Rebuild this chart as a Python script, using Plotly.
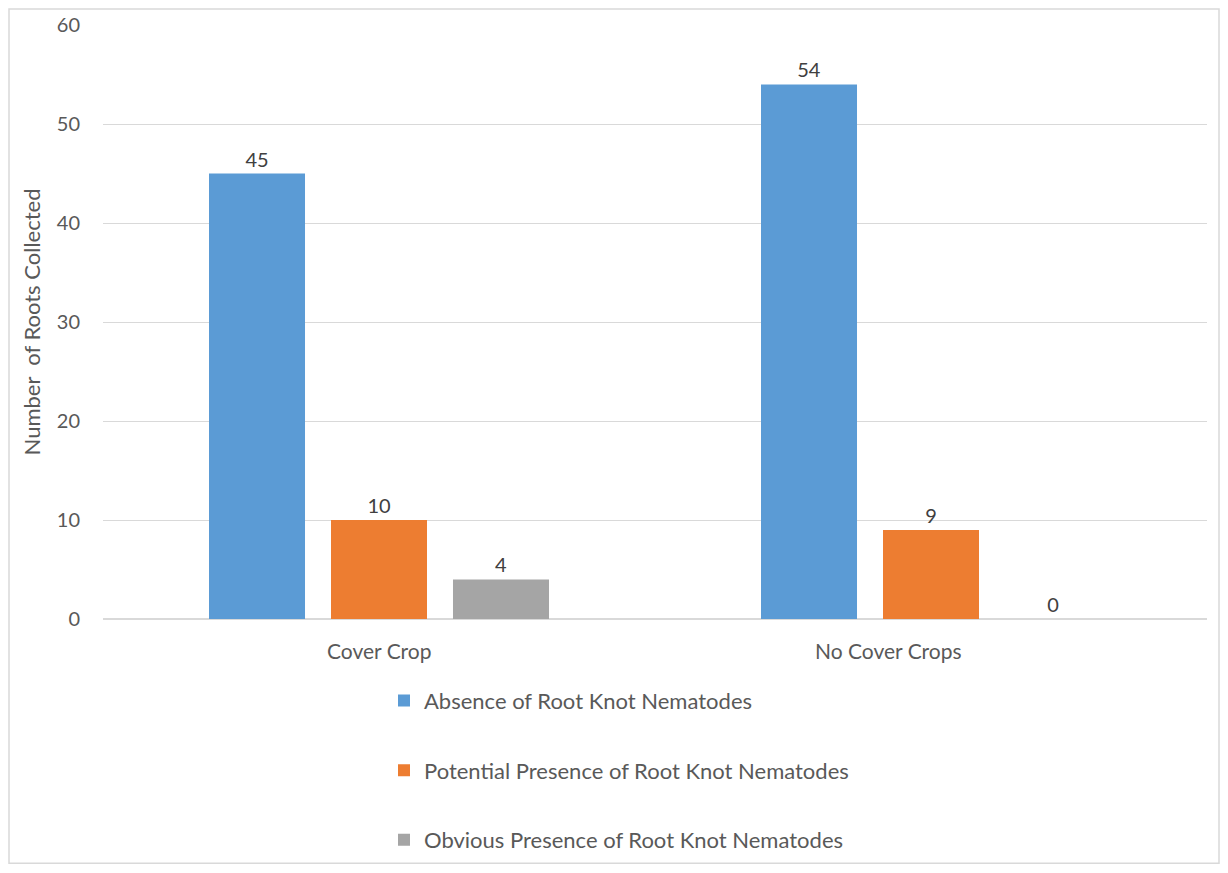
import plotly.graph_objects as go

categories = ["Cover Crop", "No Cover Crops"]
series_names = [
    "Absence of Root Knot Nematodes",
    "Potential Presence of Root Knot Nematodes",
    "Obvious Presence of Root Knot Nematodes",
]
absence = [45, 54]
potential = [10, 9]
obvious = [4, 0]
colors = ["#5B9BD5", "#ED7D31", "#A5A5A5"]
y_ticks = [0, 10, 20, 30, 40, 50, 60]

FONT = "Lato, Open Sans, sans-serif"
TXT = "#595959"

fig = go.Figure()
for i, (name, vals) in enumerate(zip(series_names, [absence, potential, obvious])):
    fig.add_trace(go.Bar(
        x=categories, y=vals, name=name,
        marker=dict(color=colors[i], line=dict(width=0)),
        text=[str(v) for v in vals], textposition="outside",
        textfont=dict(size=20, color="#404040", family=FONT),
        cliponaxis=False, legendgroup=f"g{i}",
    ))

# category labels (second one sits slightly left of its group centre in the original)
label_shift = [0, -43]
for cat, sh in zip(categories, label_shift):
    fig.add_annotation(x=cat, y=0, xref="x", yref="y", text=cat, showarrow=False,
                       yshift=-31, xshift=sh, font=dict(size=21, color=TXT, family=FONT))

fig.add_shape(type="rect", xref="paper", yref="paper",
              x0=(9 - 103) / 1104, x1=(1219 - 103) / 1104,
              y0=(621 - 866) / 596, y1=(621 - 9) / 596,
              line=dict(color="#D9D9D9", width=1.5), fillcolor="rgba(0,0,0,0)", layer="below")

fig.update_layout(
    width=1228, height=873,
    margin=dict(l=103, r=21, t=25, b=250),
    paper_bgcolor="white", plot_bgcolor="white",
    barmode="group", bargap=0.337, bargroupgap=0.213,
    font=dict(family=FONT, color=TXT, size=20),
    showlegend=True,
    legend=dict(orientation="v", x=(384 - 103) / 1104, xanchor="left",
                y=(621 - 682) / 596, yanchor="top",
                font=dict(size=22, color=TXT, family=FONT),
                tracegroupgap=38, itemwidth=30, bgcolor="rgba(0,0,0,0)"),
    xaxis=dict(showticklabels=False, showgrid=False, zeroline=False, showline=False,
               ticks=""),
    yaxis=dict(range=[0, 60], tickvals=y_ticks, showgrid=True, gridcolor="#D9D9D9",
               gridwidth=1.3, zeroline=True, zerolinecolor="#D9D9D9", zerolinewidth=1.5,
               showline=False, ticks="", ticklabelstandoff=22,
               tickfont=dict(size=20, color=TXT, family=FONT),
               title=dict(text="Number  of Roots Collected", standoff=10,
                          font=dict(size=22, color=TXT, family=FONT))),
)

fig.write_html("out.html")
